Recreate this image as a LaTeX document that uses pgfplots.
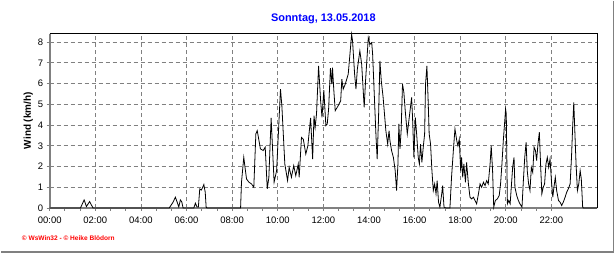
\documentclass[border=0pt]{standalone}
\usepackage{pgfplots}
\pgfplotsset{compat=1.18}
\usepackage{fontspec}
\setmainfont{Liberation Sans}
\definecolor{axgray}{RGB}{128,128,128}
\definecolor{titleblue}{RGB}{0,0,255}
\definecolor{credred}{RGB}{255,0,0}
\begin{document}
\begin{tikzpicture}[x=1bp,y=1bp]
\fill[white] (0,0) rectangle (616,253);
\draw[axgray, line width=1.5bp] (613.5,253) -- (613.5,1.5) -- (0,1.5);
\begin{axis}[
  at={(49bp,45.5bp)}, anchor=south west,
  scale only axis, width=548bp, height=174.5bp,
  xmin=0, xmax=24, ymin=0, ymax=8.4,
  clip=false,
  axis line style={draw=none},
  xtick={0,2,...,22},
  xticklabels={00:00,02:00,04:00,06:00,08:00,10:00,12:00,14:00,16:00,18:00,20:00,22:00},
  minor x tick num=2,
  ytick={0,1,...,8},
  tick pos=left, tick align=outside,
  major tick length=3bp, minor tick length=3bp,
  every tick/.style={axgray, line width=0.8bp},
  xmajorgrids, ymajorgrids,
  major grid style={axgray, line width=0.8bp, dash pattern=on 4bp off 3bp},
  /pgf/number format/assume math mode=true,
  tick label style={font=\fontsize{9.5}{11}\selectfont},
  x tick label style={yshift=-2bp},
]
\draw[axgray, line width=2bp] (rel axis cs:0,1) -- (rel axis cs:0,0) -- (rel axis cs:1,0);
\draw[black, line width=0.9bp] (rel axis cs:0,1) -- (rel axis cs:1,1) -- (rel axis cs:1,0);
\addplot[black, line width=0.8bp, sharp plot, mark=none] coordinates {
(0,0) (1.35,0) (1.51,0.39) (1.61,0.07) (1.75,0.31) (1.90,0)
(5.24,0) (5.41,0.28) (5.51,0.52) (5.59,0.28) (5.66,0.05) (5.73,0.39) (5.79,0.30) (5.85,0)
(6.32,0) (6.39,0.23) (6.46,0.05) (6.52,0.05) (6.58,0.92) (6.65,0.87) (6.71,1.0) (6.76,1.13) (6.82,0.76) (6.86,0.04) (6.90,0)
(8.37,0) (8.41,1.24) (8.51,2.44) (8.63,1.40) (8.74,1.24) (8.85,1.16) (8.95,1.0)
(9.04,3.57) (9.10,3.73) (9.24,2.85) (9.36,2.77) (9.45,2.93) (9.54,0.92) (9.61,1.48) (9.71,4.34) (9.84,1.24) (9.95,1.80)
(10.12,5.73) (10.18,4.93) (10.31,2.12) (10.43,1.32) (10.50,1.96) (10.60,1.48) (10.70,2.04) (10.79,1.56) (10.90,2.12) (10.94,1.48)
(11.04,3.40) (11.12,3.32) (11.23,2.60) (11.32,3.00) (11.44,4.34) (11.53,2.36) (11.59,4.45) (11.64,3.89) (11.70,4.53) (11.79,6.85) (11.88,5.17) (11.94,4.37)
(12.02,5.68) (12.11,3.97) (12.17,4.05) (12.23,4.77) (12.31,6.74) (12.37,5.97) (12.40,6.77) (12.46,5.65) (12.52,4.69) (12.65,4.93) (12.76,5.17) (12.81,6.21) (12.87,5.73) (12.96,5.97)
(13.09,6.45) (13.24,8.37) (13.28,8.05) (13.37,6.45) (13.43,5.73) (13.49,6.69) (13.60,7.57) (13.68,6.93) (13.79,4.85) (13.85,6.13) (13.97,8.21)
(14.04,7.89) (14.12,7.97) (14.16,7.41) (14.31,3.40) (14.36,2.36) (14.42,4.37) (14.48,7.09) (14.54,6.13) (14.62,5.33) (14.74,3.73) (14.82,3.08) (14.88,3.73) (14.92,3.24) (14.99,2.77)
(15.07,2.44) (15.15,1.80) (15.21,0.84) (15.27,2.12) (15.31,4.05) (15.36,2.85) (15.41,3.73) (15.47,5.97) (15.53,5.57) (15.59,4.69) (15.68,3.57) (15.87,5.33) (15.91,4.37) (15.97,2.44)
(16.03,4.37) (16.09,3.57) (16.16,2.44) (16.21,2.12) (16.26,3.08) (16.32,2.20) (16.38,2.93) (16.44,3.57) (16.48,5.97) (16.54,6.85) (16.59,5.33) (16.64,3.57) (16.70,3.08) (16.76,1.80) (16.82,0.84) (16.88,1.16) (16.94,0.68) (16.99,1.32)
(17.05,0.28) (17.11,0.04) (17.19,0.68) (17.23,1.08) (17.29,0.04) (17.37,0) (17.55,0) (17.62,1.48) (17.70,2.77) (17.77,3.81) (17.85,3.24) (17.90,3.00) (17.96,3.32)
(18.02,1.80) (18.06,2.44) (18.11,1.48) (18.16,2.12) (18.23,1.24) (18.28,2.20) (18.36,1.16) (18.43,0.52) (18.50,0.44) (18.58,0.52) (18.65,0.36) (18.72,0.20) (18.80,0.68) (18.87,1.16) (18.94,1.00)
(19.02,1.24) (19.09,1.08) (19.16,1.32) (19.23,1.16) (19.31,2.12) (19.36,3.00) (19.42,1.80) (19.47,0.04) (19.54,0.36) (19.63,0.44) (19.71,0.60) (19.77,1.16) (19.83,2.12) (19.89,3.24) (19.96,4.29) (19.99,4.77)
(20.02,4.53) (20.07,0.20) (20.13,0.36) (20.19,0.20) (20.24,1.00) (20.30,1.96) (20.36,2.44) (20.40,1.00) (20.48,0.60) (20.55,0.36) (20.62,0.20) (20.71,0.04) (20.77,1.32) (20.83,2.44) (20.89,3.16) (20.94,1.80)
(21.00,1.16) (21.06,0.84) (21.12,1.96) (21.18,1.72) (21.24,2.93) (21.30,2.77) (21.35,2.28) (21.41,3.08) (21.47,3.65) (21.53,1.96) (21.58,0.68) (21.64,1.00) (21.70,1.16) (21.76,2.12) (21.82,2.44) (21.88,1.96) (21.94,2.36)
(22.00,1.32) (22.06,0.52) (22.11,1.00) (22.17,1.48) (22.23,0.84) (22.31,0.36) (22.38,0.28) (22.45,0.12) (22.52,0.28) (22.60,0.52) (22.67,0.76) (22.74,0.92) (22.82,1.16) (22.88,2.44) (22.93,3.89) (22.98,5.09)
(23.02,3.89) (23.08,2.12) (23.14,0.84) (23.20,1.16) (23.26,1.80) (23.31,1.40) (23.37,0.04) (23.40,0) (24,0)
};
\end{axis}
\node[font=\bfseries\fontsize{11}{13}\selectfont, text=titleblue] at (323,235) {Sonntag, 13.05.2018};
\node[rotate=90, font=\bfseries\fontsize{10}{12}\selectfont] at (27.5,133) {Wind (km/h)};
\node[anchor=west, inner sep=0pt, text=credred, font=\bfseries\fontsize{6.6}{8}\selectfont] at (21,15) {© WsWin32 - © Heike Blödorn};
\end{tikzpicture}
\end{document}
